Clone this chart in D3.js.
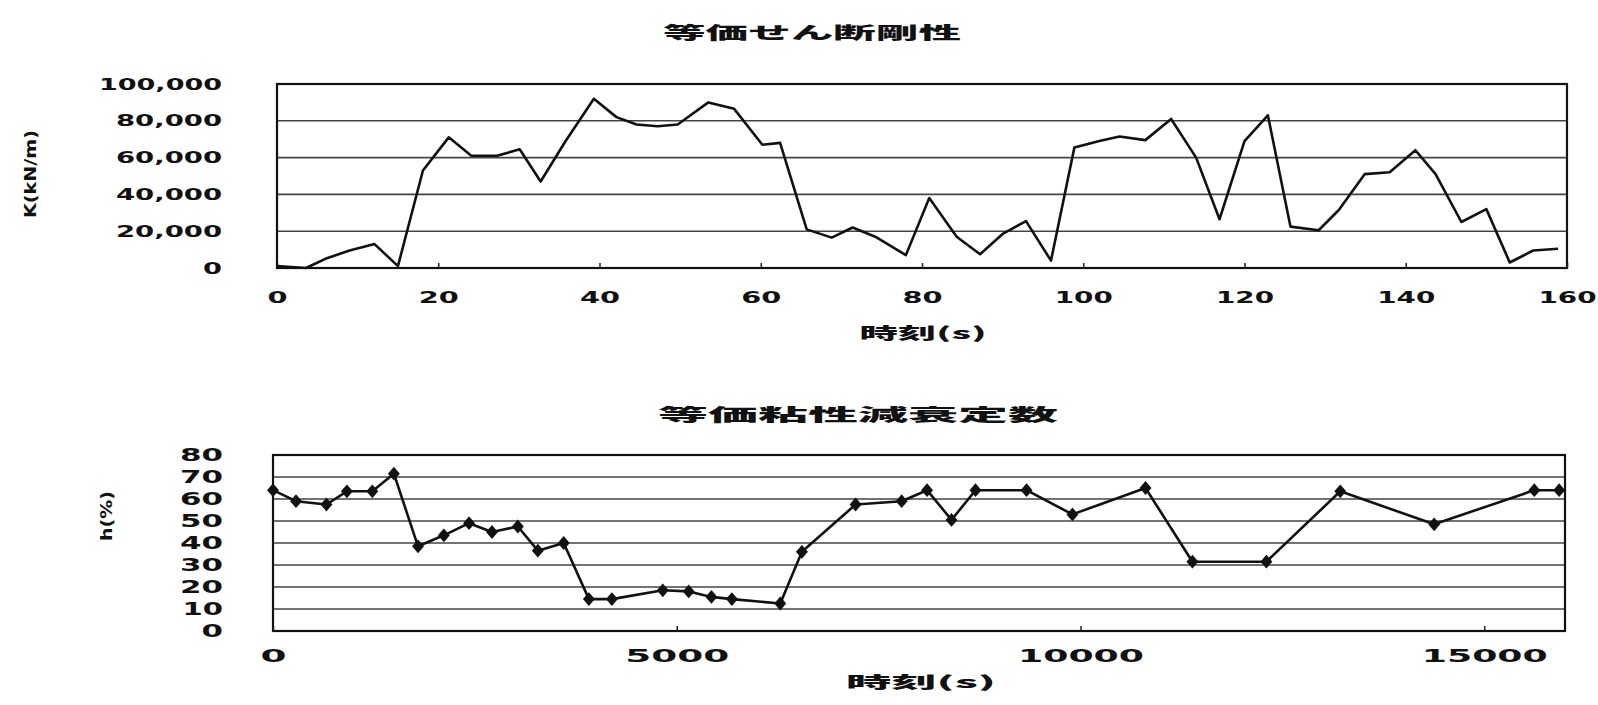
<!DOCTYPE html>
<html lang="ja">
<head>
    <meta charset="UTF-8">
    <title>等価せん断剛性 / 等価粘性減衰定数</title>
    <script src="https://cdn.jsdelivr.net/npm/d3@7/dist/d3.min.js"></script>
    <style>
        body { margin: 0; background: #fff; }
        text { font-family: "DejaVu Sans", "Noto Sans CJK JP", sans-serif; font-weight: bold; fill: #111; }
        .jp { font-family: "Noto Sans CJK JP", sans-serif; font-weight: 900; }
    </style>
</head>
<body>
<script type="application/javascript">
    // 上段：等価せん断剛性
    const shearTime = [0, 3.6, 6, 9, 12.1, 15, 18.1, 21.3, 24.1, 27.3, 30.1, 32.7, 35.8, 39.3, 42.1, 44.6, 47.2, 49.7,
        53.5, 56.7, 60.2, 62.4, 65.7, 68.8, 71.4, 74.2, 78, 80.9, 84.3, 87.2, 90, 92.9, 96, 98.9, 102, 104.5, 107.7,
        110.9, 114, 116.9, 120, 122.9, 125.7, 129.2, 131.7, 134.9, 138, 141.2, 143.7, 146.9, 150, 152.9, 155.8, 158.9];
    const shearValue = [1000, 0, 5000, 9500, 13000, 1000, 53000, 71000, 61000, 61000, 64500, 47000, 69000, 92000,
        82000, 78000, 77000, 78000, 90000, 86500, 67000, 68000, 21000, 16500, 22000, 17000, 7000, 38000, 17000, 7500,
        18500, 25500, 4000, 65500, 69000, 71500, 69500, 81000, 60000, 26500, 69000, 83000, 22500, 20500, 31500, 51000,
        52000, 64000, 51000, 25000, 32000, 3000, 9500, 10500];
    const shearYTicks = [0, 20000, 40000, 60000, 80000, 100000];
    const shearXTicks = [0, 20, 40, 60, 80, 100, 120, 140, 160];

    // 下段：等価粘性減衰定数
    const dampTime = [0, 285, 662, 915, 1230, 1497, 1796, 2116, 2428, 2712, 3032, 3280, 3600, 3912, 4197, 4827, 5148,
        5430, 5683, 6282, 6550, 7215, 7785, 8100, 8403, 8700, 9332, 9900, 10805, 11386, 12302, 13217, 14380, 15620, 15928];
    const dampValue = [64, 59, 57.5, 63.5, 63.5, 71.5, 38.5, 43.5, 49, 45, 47.5, 36.5, 40, 14.5, 14.5, 18.5, 18, 15.5,
        14.5, 12.5, 36, 57.5, 59, 64, 50.5, 64, 64, 53, 65, 31.5, 31.5, 63.5, 48.5, 64, 64];
    const dampYTicks = [0, 10, 20, 30, 40, 50, 60, 70, 80];
    const dampXTicks = [0, 5000, 10000, 15000];

    const w = 1598, h = 705;

    let svg = d3.select('body')
        .append('svg')
        .attr('width', w)
        .attr('height', h);

    // スキャン画像の横長の文字を textLength で再現
    function stretch(sel, widthFn) {
        sel.each(function () {
            const t = d3.select(this);
            t.attr('textLength', widthFn(t.text()))
                .attr('lengthAdjust', 'spacingAndGlyphs');
        });
    }
    const digitWidth = (per, one, comma) => s =>
        s.split('').reduce((a, c) => a + (c === ',' ? comma : c === '1' ? one : per), 0);

    function panel(cfg) {
        const x = d3.scaleLinear().domain(cfg.xDomain).range([cfg.left, cfg.right]);
        const y = d3.scaleLinear().domain(cfg.yDomain).range([cfg.bottom, cfg.top]);
        const g = svg.append('g');

        // 横グリッド線
        g.selectAll('line.grid')
            .data(cfg.yTicks)
            .enter()
            .append('line')
            .attr('class', 'grid')
            .attr('x1', cfg.left)
            .attr('x2', cfg.right)
            .attr('y1', d => y(d))
            .attr('y2', d => y(d))
            .attr('stroke', '#444')
            .attr('stroke-width', 1.6);

        // 枠
        g.append('rect')
            .attr('x', cfg.left)
            .attr('y', cfg.top)
            .attr('width', cfg.right - cfg.left)
            .attr('height', cfg.bottom - cfg.top)
            .attr('fill', 'none')
            .attr('stroke', '#111')
            .attr('stroke-width', 2.2);

        // y軸
        let yAxis = g.append('g')
            .attr('transform', `translate(${cfg.left},0)`)
            .call(d3.axisLeft(y).tickValues(cfg.yTicks).tickSize(0).tickPadding(cfg.left - cfg.yLabelRight)
                .tickFormat(cfg.yFormat));
        yAxis.select('.domain').remove();
        yAxis.selectAll('text').attr('font-size', cfg.fontSize).attr('fill', '#111');
        stretch(yAxis.selectAll('text'), cfg.yTextWidth);

        // x軸
        let xAxis = g.append('g')
            .attr('transform', `translate(0,${cfg.bottom})`)
            .call(d3.axisBottom(x).tickValues(cfg.xTicks).tickSize(-5).tickPadding(cfg.xPad).tickFormat(d3.format('d')));
        xAxis.select('.domain').remove();
        xAxis.selectAll('line').attr('stroke', '#222').attr('stroke-width', 1.5);
        xAxis.selectAll('text').attr('font-size', cfg.fontSize).attr('fill', '#111');
        stretch(xAxis.selectAll('text'), cfg.xTextWidth);

        // 折れ線
        const pts = cfg.xs.map((d, i) => [d, cfg.ys[i]]);
        g.append('path')
            .datum(pts)
            .attr('fill', 'none')
            .attr('stroke', '#111')
            .attr('stroke-width', 2.6)
            .attr('stroke-linejoin', 'round')
            .attr('d', d3.line().x(d => x(d[0])).y(d => y(d[1])));

        if (cfg.markers) {
            g.selectAll('path.mark')
                .data(pts)
                .enter()
                .append('path')
                .attr('class', 'mark')
                .attr('transform', d => `translate(${x(d[0])},${y(d[1])}) scale(1.5,1)`)
                .attr('d', d3.symbol().type(d3.symbolDiamond).size(55))
                .attr('fill', '#111');
        }

        // タイトル・軸ラベル
        g.append('text')
            .attr('class', 'jp')
            .attr('x', cfg.title.x)
            .attr('y', cfg.title.y)
            .attr('text-anchor', 'middle')
            .attr('dominant-baseline', 'central')
            .attr('font-size', 17)
            .attr('textLength', cfg.title.w)
            .attr('lengthAdjust', 'spacingAndGlyphs')
            .text(cfg.title.text);

        g.append('text')
            .attr('class', 'jp')
            .attr('x', cfg.xLabel.x)
            .attr('y', cfg.xLabel.y)
            .attr('text-anchor', 'middle')
            .attr('dominant-baseline', 'central')
            .attr('font-size', 16)
            .attr('textLength', cfg.xLabel.w)
            .attr('lengthAdjust', 'spacingAndGlyphs')
            .text('時刻(s)');

        g.append('text')
            .attr('transform', `translate(${cfg.yLabel.x},${cfg.yLabel.y}) rotate(-90)`)
            .attr('text-anchor', 'middle')
            .attr('dominant-baseline', 'central')
            .attr('font-size', 15)
            .attr('textLength', cfg.yLabel.w)
            .attr('lengthAdjust', 'spacingAndGlyphs')
            .text(cfg.yLabel.text);
    }

    panel({
        xs: shearTime, ys: shearValue,
        xDomain: [0, 160], yDomain: [0, 100000],
        xTicks: shearXTicks, yTicks: shearYTicks,
        left: 277, right: 1567, top: 84, bottom: 268,
        yLabelRight: 222, xPad: 24, fontSize: 16,
        yFormat: d3.format(','),
        yTextWidth: digitWidth(19, 17, 11),
        xTextWidth: digitWidth(20, 18, 10),
        markers: false,
        title: {text: '等価せん断剛性', x: 812, y: 31, w: 298},
        xLabel: {x: 923, y: 332, w: 127},
        yLabel: {text: 'K(kN/m)', x: 31, y: 174, w: 88}
    });

    panel({
        xs: dampTime, ys: dampValue,
        xDomain: [0, 16000], yDomain: [0, 80],
        xTicks: dampXTicks, yTicks: dampYTicks,
        left: 273, right: 1565, top: 455, bottom: 631,
        yLabelRight: 223, xPad: 19, fontSize: 17,
        yFormat: d3.format('d'),
        yTextWidth: digitWidth(21.5, 19, 10),
        xTextWidth: digitWidth(26, 22, 10),
        markers: true,
        title: {text: '等価粘性減衰定数', x: 858, y: 413, w: 400},
        xLabel: {x: 921, y: 681, w: 150},
        yLabel: {text: 'h(%)', x: 107, y: 516, w: 50}
    });
</script>
</body>
</html>
